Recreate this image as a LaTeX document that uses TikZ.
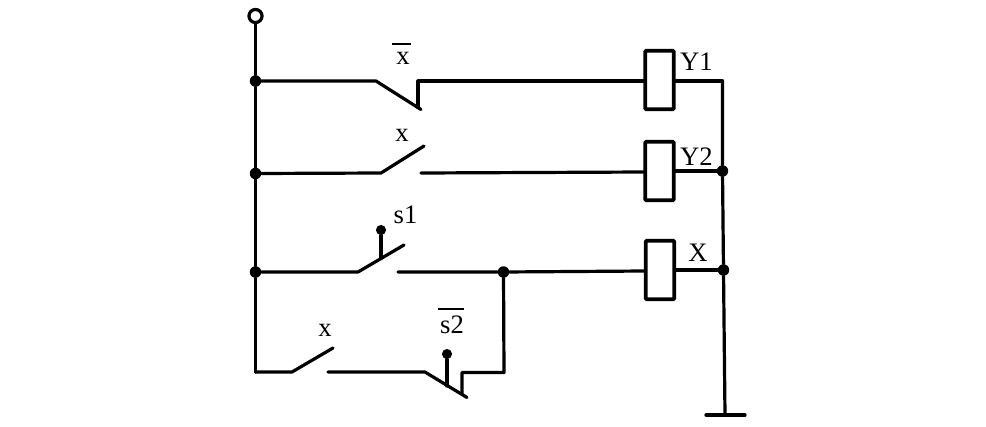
\documentclass[tikz,border=0pt]{standalone}
\usepackage{fontspec}
\setmainfont{Liberation Serif}
\begin{document}
\begin{tikzpicture}[x=0.75pt,y=-0.75pt,
  wire/.style={line width=2.4pt,line cap=round,line join=round,black},
  coil/.style={draw,line width=2.8pt,rounded corners=0.8pt,minimum width=21.3pt,minimum height=44pt,inner sep=0pt,fill=white},
  dot/.style={circle,fill=black,draw=none,inner sep=0pt,minimum size=8.6pt},
  knob/.style={circle,fill=black,draw=none,inner sep=0pt,minimum size=7.6pt},
  term/.style={circle,draw,line width=2.4pt,fill=white,inner sep=0pt,minimum size=9.8pt},
  lbl/.style={inner sep=0pt,font=\fontsize{20pt}{21pt}\selectfont}]
\useasboundingbox (0,0) rectangle (986,426);
% coils
\node[coil] (y1) at (659.5,80) {};
\node[coil] (y2) at (659.5,171) {};
\node[coil] (xc) at (660,270) {};
% supply
\node[term] (top) at (255.5,16) {};
\node[dot] (j1) at (255.5,81) {};
\node[dot] (j2) at (255.5,173.5) {};
\node[dot] (j3) at (255.5,272) {};
\coordinate (bl) at (255.5,372);
\draw[wire] (top) -- (j1) -- (j2) -- (j3) -- (bl);
% right bus
\coordinate (rt) at (722.5,81);
\node[dot] (r2) at (722.5,171) {};
\node[dot] (r3) at (723.5,270) {};
\coordinate (gnd) at (725,415);
\draw[wire] (rt) -- (r2) -- (r3) -- (gnd);
\coordinate (gl) at (706,415);
\coordinate (gr) at (745,415);
\draw[wire] (gl) -- (gr);
\draw[wire] (y1.east |- rt) -- (rt);
\draw[wire] (y2.east |- r2) -- (r2);
\draw[wire] (xc.east |- r3) -- (r3);
% row 1
\coordinate (a1) at (376,81);
\coordinate (a2) at (421,109.5);
\coordinate (a3) at (418,107.5);
\coordinate (a4) at (418,81);
\draw[wire] (j1) -- (a1) -- (a2);
\draw[wire] (a3) -- (a4) -- (y1.west |- a4);
% row 2
\coordinate (b1) at (381,173);
\coordinate (b2) at (424,146);
\coordinate (b3) at (421,173);
\draw[wire] (j2) -- (b1) -- (b2);
\draw[wire] (b3) -- (y2.west |- 0,172);
% row 3
\coordinate (c1) at (358,272);
\coordinate (c2) at (404,245);
\coordinate (c3) at (398,272);
\node[dot] (j4) at (503.5,272) {};
\coordinate (c4) at (381,258.5);
\node[knob] (k1) at (381,230) {};
\draw[wire] (j3) -- (c1) -- (c2);
\draw[wire] (c4) -- (k1);
\draw[wire] (c3) -- (j4) -- (xc.west |- 0,271);
% row 4
\coordinate (d1) at (292,372);
\coordinate (d2) at (333,348);
\coordinate (d3) at (328,372);
\coordinate (d4) at (425,372);
\coordinate (d5) at (467,397.5);
\coordinate (d6) at (447,386);
\node[knob] (k2) at (447,354) {};
\coordinate (d7) at (462,394);
\coordinate (d8) at (462,372.5);
\coordinate (d9) at (504,372.5);
\draw[wire] (bl) -- (d1) -- (d2);
\draw[wire] (d3) -- (d4) -- (d5);
\draw[wire] (d6) -- (k2);
\draw[wire] (d7) -- (d8) -- (d9) -- (j4);
% labels
\node[lbl] (l1) at (403,58.5) {x};
\draw[line width=0.9pt] (392,44) -- (411,44);
\node[lbl] (l2) at (402,135) {x};
\node[lbl] (l3) at (405.5,214.5) {s1};
\node[lbl] (l4) at (325,330.5) {x};
\node[lbl] (l5) at (452,324.5) {s2};
\draw[line width=0.9pt] (438,309) -- (464,309);
\node[lbl] (l6) at (696.5,62) {Y1};
\node[lbl] (l7) at (696.5,157) {Y2};
\node[lbl] (l8) at (698,252.5) {X};
\end{tikzpicture}
\end{document}
